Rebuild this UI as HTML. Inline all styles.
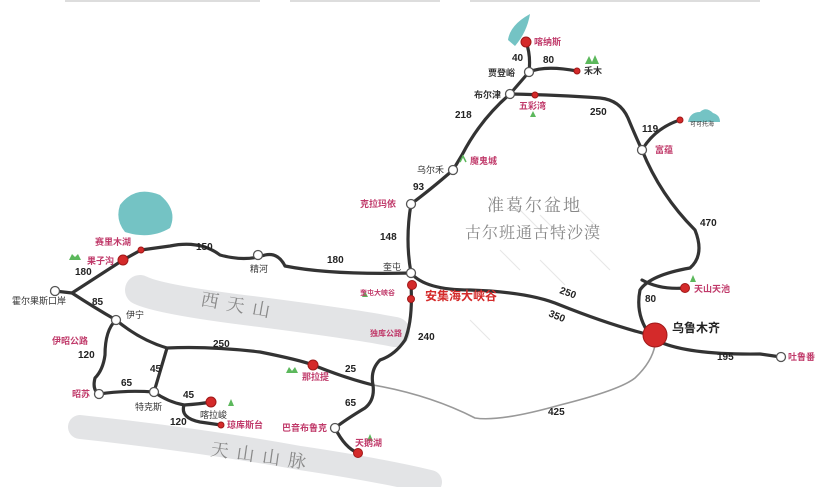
<!DOCTYPE html>
<html><head><meta charset="utf-8"><style>
html,body{margin:0;padding:0;background:#fff;}
svg{display:block;}
text{font-family:"Liberation Sans","Noto Sans CJK SC",sans-serif;}
.n{font-size:10px;font-weight:bold;fill:#222;}
.p{font-size:9px;fill:#c03a6a;font-weight:bold;}
.b{font-size:9px;fill:#333;}
.r{stroke:#333;stroke-width:3.2;fill:none;stroke-linecap:round;stroke-linejoin:round;}
.w{fill:#fff;stroke:#555;stroke-width:1.3;}
.d{fill:#d42a2a;stroke:#a01818;stroke-width:1;}
.big{font-family:"Noto Serif CJK SC",serif;fill:#888;}
</style></head><body>
<svg width="819" height="487" viewBox="0 0 819 487">
<!-- title remnant -->
<g stroke="#ddd" stroke-width="2"><line x1="65" y1="1" x2="260" y2="1"/><line x1="290" y1="1" x2="440" y2="1"/><line x1="470" y1="1" x2="760" y2="1"/></g>
<!-- mountain bands -->
<path d="M140 290 Q160 300 260 312 Q360 325 395 332" stroke="#e3e4e6" stroke-width="30" fill="none" stroke-linecap="round"/>
<path d="M80 427 Q200 440 300 458 Q380 470 430 482" stroke="#e3e4e6" stroke-width="24" fill="none" stroke-linecap="round"/>
<text x="200" y="305" font-size="18" class="big" transform="rotate(10 200 305)" letter-spacing="8">西天山</text>
<text x="210" y="455" font-size="18" class="big" transform="rotate(8 210 455)" letter-spacing="8">天山山脉</text>
<!-- lakes -->
<path d="M120 205 Q135 185 160 195 Q178 210 170 228 Q150 240 125 232 Q115 220 120 205Z" fill="#74c3c4"/>
<path d="M508 40 Q510 25 530 14 Q527 32 515 46Z" fill="#74c3c4"/>
<path d="M688 122 Q690 112 700 112 Q706 106 713 113 Q720 115 720 122Z" fill="#74c3c4"/>
<!-- desert hatch -->
<g stroke="#e6e6e6" stroke-width="1"><line x1="515" y1="205" x2="540" y2="230"/><line x1="540" y1="215" x2="565" y2="240"/><line x1="570" y1="200" x2="600" y2="230"/><line x1="470" y1="320" x2="490" y2="340"/><line x1="500" y1="250" x2="520" y2="270"/><line x1="540" y1="260" x2="565" y2="285"/><line x1="590" y1="250" x2="610" y2="270"/></g>
<text x="487" y="211" font-size="17" class="big" letter-spacing="2">准葛尔盆地</text>
<text x="465" y="238" font-size="16" class="big" letter-spacing="1">古尔班通古特沙漠</text>
<!-- grey road 425 -->
<path d="M373 385 Q430 395 475 418 Q500 422 560 405 Q620 390 635 378 Q652 362 655 345" stroke="#999" stroke-width="1.6" fill="none"/>
<!-- roads -->
<path class="r" d="M526 42 Q531 55 529 72 L510 94"/>
<path class="r" d="M529 72 Q545 65 577 71"/>
<path class="r" d="M510 94 Q560 95 600 98 Q620 100 628 118 Q635 135 642 150 Q660 195 695 230 Q705 255 690 268 Q650 275 640 290 Q635 315 650 335"/>
<path class="r" d="M642 280 Q660 290 685 288"/>
<path class="r" d="M642 150 Q655 128 680 120" stroke-width="2"/>
<path class="r" d="M510 94 Q480 120 462 155 L453 170 Q430 190 411 204 Q405 240 411 273"/>
<path class="r" d="M411 273 Q425 290 470 290 Q530 292 560 305 Q610 325 650 335"/>
<path class="r" d="M660 342 Q690 355 760 354 L781 357"/>
<path class="r" d="M411 273 Q330 275 285 266 Q278 252 265 255 Q245 262 220 255 Q200 240 170 246 L141 250 L123 260 L72 293"/>
<path class="r" d="M55 291 L72 293 Q95 308 116 320 Q140 340 167 348 Q210 346 260 352 Q300 360 313 365 Q345 378 373 385"/>
<path class="r" d="M411 285 Q413 320 405 340 Q395 355 380 360 Q370 370 373 385 Q375 400 365 408 Q345 420 335 428 Q345 448 358 453"/>
<path class="r" d="M116 320 Q105 330 105 355 Q103 370 95 378 Q92 390 99 394 Q125 390 154 392 L167 348"/>
<path class="r" d="M154 392 Q168 402 184 405 Q200 404 211 402"/>
<path class="r" d="M184 405 Q180 418 200 422 L221 425" stroke-width="2.4"/>
<!-- nodes -->
<g class="w"><circle cx="529" cy="72" r="4.5"/><circle cx="510" cy="94" r="4.5"/><circle cx="642" cy="150" r="4.5"/><circle cx="453" cy="170" r="4.5"/><circle cx="411" cy="204" r="4.5"/><circle cx="411" cy="273" r="4.5"/><circle cx="781" cy="357" r="4.5"/><circle cx="258" cy="255" r="4.5"/><circle cx="55" cy="291" r="4.5"/><circle cx="116" cy="320" r="4.5"/><circle cx="99" cy="394" r="4.5"/><circle cx="154" cy="392" r="4.5"/><circle cx="335" cy="428" r="4.5"/></g>
<g class="d"><circle cx="526" cy="42" r="5"/><circle cx="577" cy="71" r="3"/><circle cx="535" cy="95" r="3"/><circle cx="680" cy="120" r="3"/><circle cx="685" cy="288" r="4.5"/><circle cx="655" cy="335" r="12"/><circle cx="412" cy="285" r="4.5"/><circle cx="411" cy="299" r="3.5"/><circle cx="141" cy="250" r="3"/><circle cx="123" cy="260" r="5"/><circle cx="313" cy="365" r="5"/><circle cx="211" cy="402" r="5"/><circle cx="221" cy="425" r="3"/><circle cx="358" cy="453" r="4.5"/></g>
<!-- trees -->
<g fill="#5cb85c"><path d="M585 64 l4 -8 l3 6 l3 -7 l4 9Z"/><path d="M530 117 l3 -6 l3 6Z"/><path d="M69 260 l3 -6 l3 3 l3 -3 l3 6Z"/><path d="M362 297 l3 -6 l3 6Z"/><path d="M690 282 l3 -7 l3 7Z"/><path d="M286 373 l3 -6 l3 4 l3 -4 l3 6Z"/><path d="M228 406 l3 -7 l3 7Z"/><path d="M367 441 l3 -7 l3 7Z"/><path d="M460 162 l3 -6 l3 6" fill="none" stroke="#5cb85c" stroke-width="1.5"/></g>
<!-- distance labels -->
<g class="n"><text x="512" y="61">40</text><text x="543" y="63">80</text><text x="455" y="118">218</text><text x="590" y="115">250</text><text x="642" y="132">119</text><text x="700" y="226">470</text><text x="413" y="190">93</text><text x="380" y="240">148</text><text x="645" y="302">80</text><text x="559" y="293" transform="rotate(20 559 293)">250</text><text x="548" y="316" transform="rotate(22 548 316)">350</text><text x="717" y="360">195</text><text x="418" y="340">240</text><text x="548" y="415">425</text><text x="196" y="250">150</text><text x="327" y="263">180</text><text x="75" y="275">180</text><text x="92" y="305">85</text><text x="213" y="347">250</text><text x="345" y="372">25</text><text x="345" y="406">65</text><text x="78" y="358">120</text><text x="150" y="372">45</text><text x="121" y="386">65</text><text x="183" y="398">45</text><text x="170" y="425">120</text></g>
<!-- place labels -->
<g class="p"><text x="534" y="45">喀纳斯</text><text x="519" y="109">五彩湾</text><text x="655" y="153">富蕴</text><text x="470" y="164">魔鬼城</text><text x="360" y="207">克拉玛依</text><text x="694" y="292">天山天池</text><text x="788" y="360">吐鲁番</text><text x="360" y="295" font-size="7">奎屯大峡谷</text><text x="370" y="336" font-size="8">独库公路</text><text x="95" y="245">赛里木湖</text><text x="87" y="264">果子沟</text><text x="52" y="344">伊昭公路</text><text x="72" y="397">昭苏</text><text x="302" y="380">那拉提</text><text x="227" y="428">琼库斯台</text><text x="282" y="431">巴音布鲁克</text><text x="355" y="446">天鹅湖</text></g>
<g class="b"><text x="488" y="76" font-weight="bold">贾登峪</text><text x="584" y="74" font-weight="bold">禾木</text><text x="474" y="98" font-weight="bold">布尔津</text><text x="417" y="173">乌尔禾</text><text x="383" y="270">奎屯</text><text x="250" y="272">精河</text><text x="12" y="304">霍尔果斯口岸</text><text x="126" y="318">伊宁</text><text x="135" y="410">特克斯</text><text x="200" y="418">喀拉峻</text><text x="690" y="126" font-size="6">可可托海</text></g>
<text x="425" y="300" font-size="12" font-weight="bold" fill="#d42a2a">安集海大峡谷</text>
<text x="672" y="332" font-size="12" font-weight="bold" fill="#222">乌鲁木齐</text>
</svg>
</body></html>
